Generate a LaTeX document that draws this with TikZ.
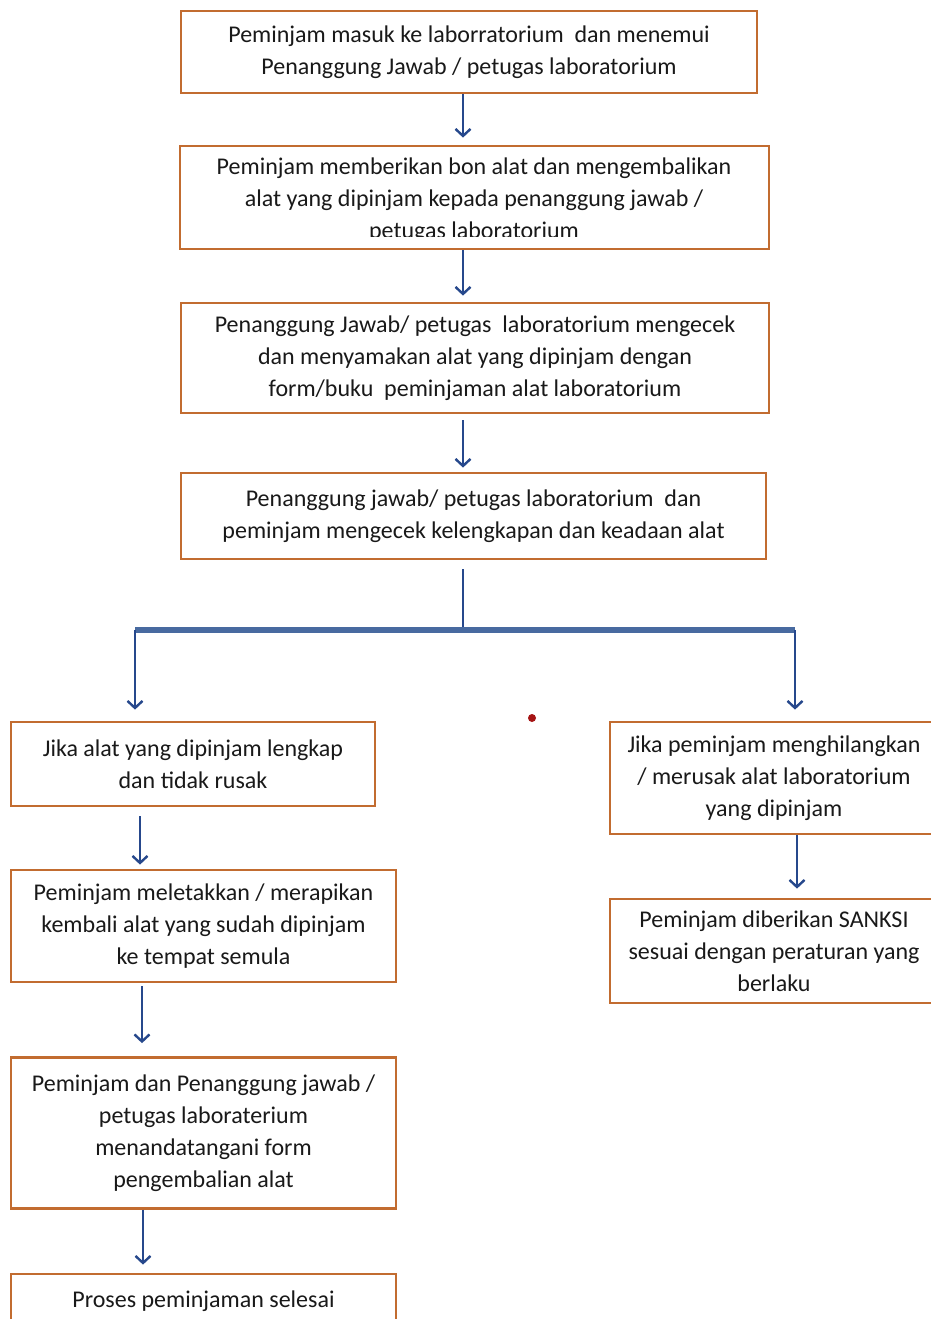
\documentclass[tikz,border=0pt]{standalone}
\usepackage{fontspec}
\setmainfont{Carlito}
\usetikzlibrary{arrows.meta,calc}
\definecolor{boxc}{RGB}{194,108,48}
\definecolor{arrc}{RGB}{38,72,140}
\definecolor{barc}{RGB}{72,106,160}
\definecolor{dotc}{RGB}{165,20,20}
\begin{document}
\begin{tikzpicture}[x=1pt,y=-1pt,
  box/.style={draw=boxc,line width=2.8pt,rectangle,inner sep=0pt,align=center,
    font=\fontsize{24}{32}\selectfont,text=black!90},
  txt/.style={inner sep=0pt,align=center,font=\fontsize{24}{32}\selectfont,text=black!90},
  arr/.style={draw=arrc,line width=2.6pt,-{Straight Barb[length=7pt,width=15pt,line width=2.4pt]}},
  ln/.style={draw=arrc,line width=2.6pt},
  bar/.style={draw=barc,line width=5.5pt}]
\useasboundingbox (0,0) rectangle (931,1319);
\fill[white] (0,0) rectangle (931,1319);

% main column
\node[box,minimum width=576pt,minimum height=82pt] (b1) at (469,52)
  {Peminjam masuk ke laborratorium\ \ dan menemui\\Penanggung Jawab / petugas laboratorium};
\node[box,minimum width=589pt,minimum height=103pt] (b2) at (474.5,197.5) {};
\begin{scope}
\clip (180,146) rectangle (769,236);
\node[txt] (b2t) at (474,200)
  {Peminjam memberikan bon alat dan mengembalikan\\alat yang dipinjam kepada penanggung jawab /\\petugas laboratorium};
\end{scope}
\node[box,minimum width=588pt,minimum height=110pt] (b3) at (475,358)
  {Penanggung Jawab/ petugas\ \ laboratorium mengecek\\dan menyamakan alat yang dipinjam dengan\\form/buku\ \ peminjaman alat laboratorium};
\node[box,minimum width=585pt,minimum height=86pt] (b4) at (473.5,516)
  {Penanggung jawab/ petugas laboratorium\ \ dan\\peminjam mengecek kelengkapan dan keadaan alat};

% left column
\node[box,minimum width=364pt,minimum height=84pt] (l1) at (193,764)
  {Jika alat yang dipinjam lengkap\\dan tidak rusak};
\node[box,minimum width=385pt,minimum height=112pt] (l2) at (203.5,926)
  {Peminjam meletakkan / merapikan\\kembali alat yang sudah dipinjam\\ke tempat semula};
\node[box,minimum width=385pt,minimum height=151pt] (l3) at (203.5,1133)
  {Peminjam dan Penanggung jawab /\\petugas laboraterium\\menandatangani form\\pengembalian alat};
\node[box,minimum width=385pt,minimum height=54pt] (l4) at (203.5,1301)
  {Proses peminjaman selesai};

% right column
\node[box,minimum width=328pt,minimum height=112pt] (r1) at (774,778)
  {Jika peminjam menghilangkan\\/ merusak alat laboratorium\\yang dipinjam};
\node[box,minimum width=328pt,minimum height=104pt] (r2) at (774,951)
  {Peminjam diberikan SANKSI\\sesuai dengan peraturan yang\\berlaku};

% helper coordinates
\coordinate (j) at (463,630);
\coordinate (jl) at (135,630);
\coordinate (jr) at (795,630);
\coordinate (c1) at (140,0);
\coordinate (c2) at (142,0);
\coordinate (c3) at (143,0);
\coordinate (c4) at (797,0);

% connectors
\draw[arr,shorten >=7pt] (b1.south -| j) -- (b2.north -| j);
\draw[arr,shorten >=6pt] (b2.south -| j) -- (b3.north -| j);
\draw[arr,shorten <=6pt,shorten >=4pt] (b3.south -| j) -- (b4.north -| j);
\draw[ln,shorten <=9pt] (b4.south -| j) -- (j);
\draw[bar] (jl) -- (jr);
\draw[arr,shorten >=11pt] (jl) -- (l1.north -| jl);
\draw[arr,shorten >=11pt] (jr) -- (r1.north -| jr);
\draw[arr,shorten <=9pt,shorten >=4pt] (l1.south -| c1) -- (l2.north -| c1);
\draw[arr,shorten <=3pt,shorten >=13pt] (l2.south -| c2) -- (l3.north -| c2);
\draw[arr,shorten >=8pt] (l3.south -| c3) -- (l4.north -| c3);
\draw[arr,shorten >=9pt] (r1.south -| c4) -- (r2.north -| c4);

% stray dot
\fill[dotc] (532,718) circle (4pt);
\end{tikzpicture}
\end{document}
